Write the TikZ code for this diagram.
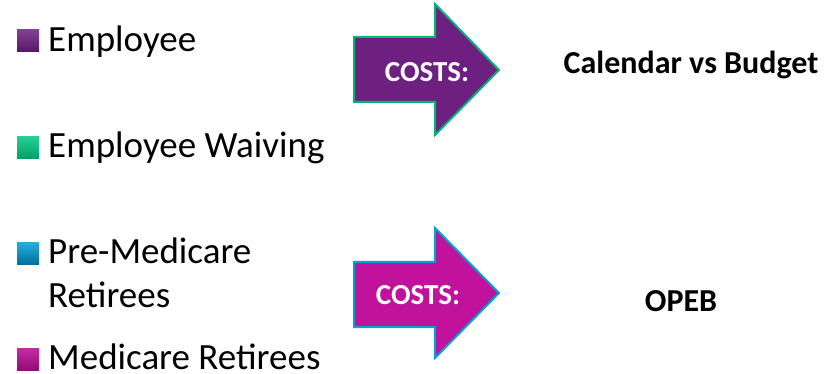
\documentclass[tikz,border=0pt]{standalone}
\usepackage{fontspec}
\setmainfont{Carlito}
\usepackage{xcolor}
\usetikzlibrary{calc}

\definecolor{empl}{RGB}{110,32,128}
\definecolor{waiv}{RGB}{0,200,130}
\definecolor{prem}{RGB}{0,160,220}
\definecolor{medi}{RGB}{192,18,154}

\begin{document}
\begin{tikzpicture}[x=1pt,y=-1pt]

\tikzset{
    box/.style = {
    minimum height=22pt,
    minimum width = 22pt,
    inner sep=0pt
    }
}

\tikzstyle{legend}=[anchor=base west, font=\fontsize{37}{44}\selectfont, inner sep=0pt, text depth=0pt]
\tikzstyle{costs}=[text=white, font=\fontsize{29}{32}\selectfont\bfseries]
\tikzstyle{target}=[font=\fontsize{32}{36}\selectfont\bfseries]

\useasboundingbox (0,0) rectangle (833,374);

% legend squares
\node (sq-empl) [box, anchor=north west, top color=empl!85!white, bottom color=empl!80!black] at (17,29) {};
\node (sq-waiv) [box, anchor=north west, top color=waiv!85!white, bottom color=waiv!80!black] at (17,136) {};
\node (sq-prem) [box, anchor=north west, top color=prem!85!white, bottom color=prem!70!black] at (17,242) {};
\node (sq-medi) [box, anchor=north west, top color=medi!90!white, bottom color=medi!75!black] at (17,348) {};

\node (t-empl) [legend] at (48,52) {Employee};
\node (t-waiv) [legend] at (48,158) {Employee Waiving};
\node (t-prem) [legend] at (48,264) {Pre-Medicare};
\node (t-ret) [legend] at (48,308) {Retirees};
\node (t-medi) [legend] at (48,369) {Medicare Retirees};

% arrows
\draw [line width=2pt, draw=waiv!90!black, fill=empl]
  (354,37) -- (435,37) -- (435,4) -- (499,70) -- (435,135) -- (435,102) -- (354,102) -- cycle;
\draw [line width=2pt, draw=prem, fill=medi]
  (354,262) -- (435,262) -- (435,228) -- (499,293) -- (435,358) -- (435,327) -- (354,327) -- cycle;

\node (c-top) [costs] at (427,72) {COSTS:};
\node (c-bot) [costs] at (418,295) {COSTS:};

\node (cal) [target, anchor=base] at (691,74) {Calendar vs Budget};
\node (opeb) [target, anchor=base] at (681,312) {OPEB};

\end{tikzpicture}
\end{document}
